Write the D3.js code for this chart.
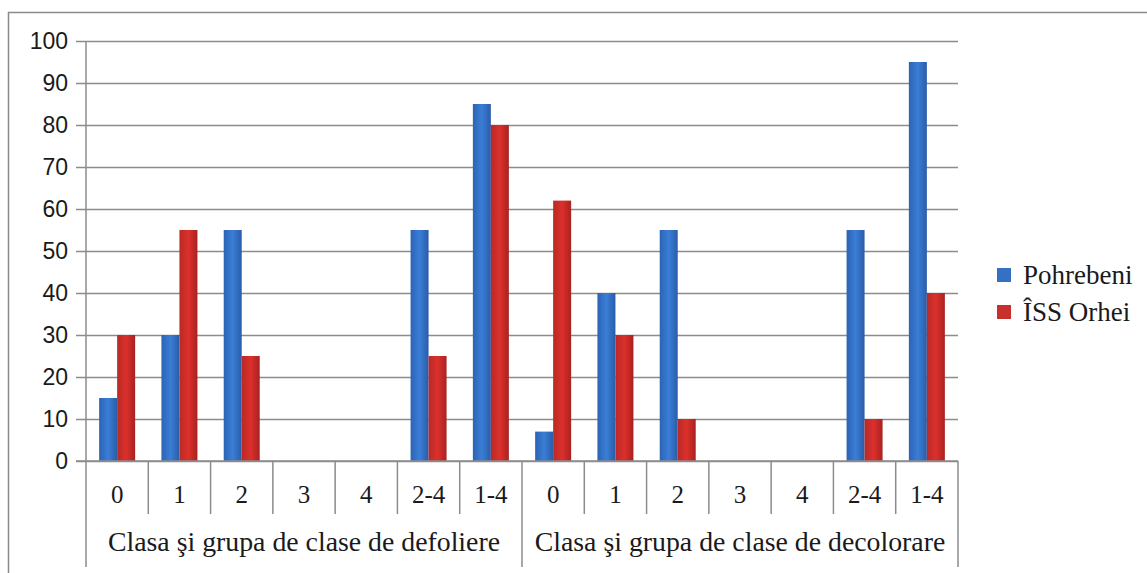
<!DOCTYPE html>
<html>
<head>
<meta charset="utf-8">
<script src="https://cdn.jsdelivr.net/npm/d3@7"></script>
<style>
  body { margin: 0; background: #fff; }
  svg { display: block; }
  .serif { font-family: "Liberation Serif", "DejaVu Serif", serif; }
  .sans { font-family: "Liberation Sans", Arial, sans-serif; }
</style>
</head>
<body>
<div id="chart"></div>
<script>
// categories (class labels) and the two groups they belong to
const classLabels = ["0", "1", "2", "3", "4", "2-4", "1-4"];
const groupLabels = ["Clasa şi grupa de clase de defoliere", "Clasa şi grupa de clase de decolorare"];
const seriesNames = ["Pohrebeni", "ÎSS Orhei"];

// values per group, in the order of classLabels
const pohrebeniDefoliere = [15, 30, 55, 0, 0, 55, 85];
const orheiDefoliere = [30, 55, 25, 0, 0, 25, 80];
const pohrebeniDecolorare = [7, 40, 55, 0, 0, 55, 95];
const orheiDecolorare = [62, 30, 10, 0, 0, 10, 40];

const yTicks = [0, 10, 20, 30, 40, 50, 60, 70, 80, 90, 100];

// flat rows built from the arrays above
const rows = [];
classLabels.forEach((c, i) => rows.push({ key: "a" + i, label: c, group: 0, values: [pohrebeniDefoliere[i], orheiDefoliere[i]] }));
classLabels.forEach((c, i) => rows.push({ key: "b" + i, label: c, group: 1, values: [pohrebeniDecolorare[i], orheiDecolorare[i]] }));

const svgWidth = 1147;
const svgHeight = 573;
const plot = { left: 86, right: 958, top: 41, bottom: 461 };

const svg = d3.select("#chart")
    .append("svg")
    .attr("width", svgWidth)
    .attr("height", svgHeight);

// gradients for the bars
const defs = svg.append("defs");
const gradients = [
    { id: "gBlue", stops: ["#2c63b4", "#3a7ed6", "#2a5ca8"] },
    { id: "gRed", stops: ["#b82a26", "#dc302c", "#a82220"] }
];
gradients.forEach(g => {
    const lg = defs.append("linearGradient").attr("id", g.id).attr("x1", "0%").attr("x2", "100%");
    g.stops.forEach((c, i) => lg.append("stop").attr("offset", (i * 50) + "%").attr("stop-color", c));
});
const fills = ["url(#gBlue)", "url(#gRed)"];
const legendColors = ["#3470c4", "#c8302c"];

// outer frame
svg.append("rect")
    .attr("x", 8.5).attr("y", 12.5)
    .attr("width", 1200).attr("height", 700)
    .attr("fill", "none")
    .attr("stroke", "#8a8a8a")
    .attr("stroke-width", 1.5);

// scales
const xScale = d3.scaleBand()
    .domain(rows.map(d => d.key))
    .range([plot.left, plot.right])
    .padding(0);

const step = xScale.bandwidth();
const barW = 18;
const xSub = d3.scaleBand()
    .domain(seriesNames)
    .range([(step - 2 * barW) / 2, (step + 2 * barW) / 2])
    .padding(0);

const yScale = d3.scaleLinear().domain([0, 100]).range([plot.bottom, plot.top]);

// gridlines + y labels
const yAxis = svg.append("g")
    .attr("transform", `translate(${plot.left},0)`)
    .call(d3.axisLeft(yScale).tickValues(yTicks).tickSize(10).tickPadding(8));
yAxis.select(".domain").remove();
yAxis.attr("font-family", null).attr("font-size", null);
yAxis.selectAll(".tick line")
    .attr("x2", plot.right - plot.left)
    .attr("x1", -10)
    .attr("stroke", "#8c8c8c")
    .attr("stroke-width", 1.5);
yAxis.selectAll(".tick text")
    .attr("class", "sans")
    .style("font-size", "23px")
    .attr("fill", "#1a1a1a");

// bars
const catG = svg.append("g")
    .selectAll("g")
    .data(rows)
    .enter()
    .append("g")
    .attr("transform", d => `translate(${xScale(d.key)},0)`);

catG.selectAll("rect")
    .data(d => d.values.map((v, i) => ({ name: seriesNames[i], value: v, i })))
    .enter()
    .filter(d => d.value > 0)
    .append("rect")
    .attr("x", d => xSub(d.name))
    .attr("y", d => yScale(d.value))
    .attr("width", xSub.bandwidth())
    .attr("height", d => yScale(0) - yScale(d.value))
    .attr("fill", d => fills[d.i]);

// x axis line (zero line)
svg.append("line")
    .attr("x1", plot.left - 10).attr("x2", plot.right)
    .attr("y1", yScale(0)).attr("y2", yScale(0))
    .attr("stroke", "#8c8c8c").attr("stroke-width", 1.5);

// vertical axis line, running down through the label area
svg.append("line")
    .attr("x1", plot.left).attr("x2", plot.left)
    .attr("y1", plot.top).attr("y2", 567)
    .attr("stroke", "#8c8c8c").attr("stroke-width", 1.5);

// category separators
const bounds = rows.map((d, i) => i).slice(1).concat([rows.length]);
svg.append("g")
    .selectAll("line")
    .data(bounds)
    .enter()
    .append("line")
    .attr("x1", i => plot.left + i * step)
    .attr("x2", i => plot.left + i * step)
    .attr("y1", yScale(0))
    .attr("y2", i => (i % classLabels.length === 0) ? 567 : 514)
    .attr("stroke", "#8c8c8c")
    .attr("stroke-width", 1.5);

// category labels
svg.append("g")
    .selectAll("text")
    .data(rows)
    .enter()
    .append("text")
    .attr("class", "serif")
    .attr("x", d => xScale(d.key) + step / 2)
    .attr("y", 503)
    .attr("text-anchor", "middle")
    .style("font-size", "25px")
    .attr("fill", "#1a1a1a")
    .text(d => d.label);

// group labels
svg.append("g")
    .selectAll("text")
    .data(groupLabels)
    .enter()
    .append("text")
    .attr("class", "serif")
    .attr("x", (d, i) => plot.left + (i + 0.5) * classLabels.length * step)
    .attr("y", 551)
    .attr("text-anchor", "middle")
    .style("font-size", "27.8px")
    .attr("fill", "#1a1a1a")
    .text(d => d);

// legend
const legend = svg.append("g")
    .selectAll("g")
    .data(seriesNames)
    .enter()
    .append("g")
    .attr("transform", (d, i) => `translate(997,${268 + i * 37})`);

legend.append("rect")
    .attr("width", 14).attr("height", 14)
    .attr("fill", (d, i) => legendColors[i]);

legend.append("text")
    .attr("class", "serif")
    .attr("x", 26)
    .attr("y", 7)
    .attr("dy", "0.35em")
    .style("font-size", "27px")
    .attr("fill", "#1a1a1a")
    .text(d => d);
</script>
</body>
</html>
